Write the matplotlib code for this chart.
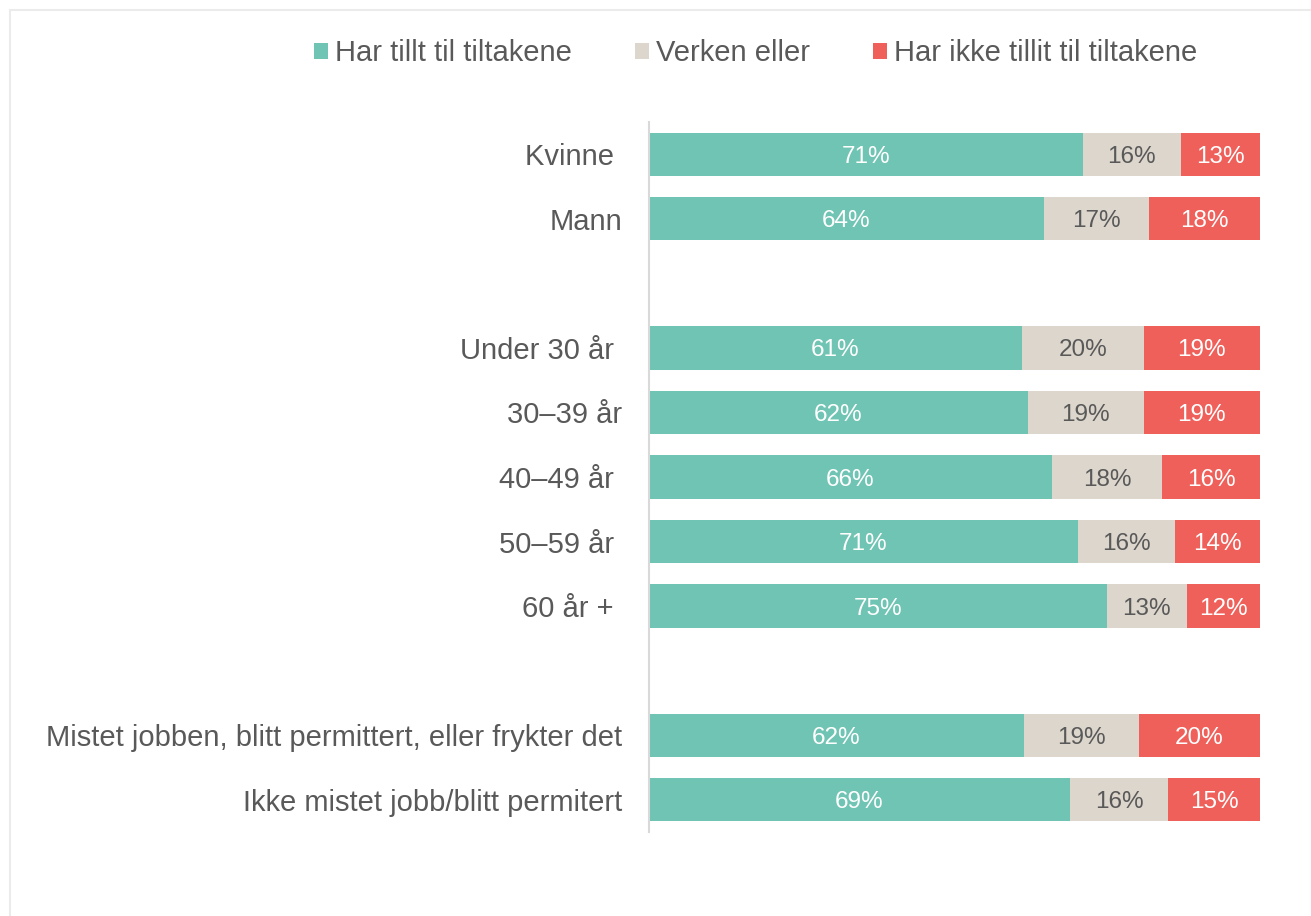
import matplotlib
matplotlib.use("Agg")
import matplotlib.pyplot as plt
import numpy as np
from matplotlib.patches import Rectangle, Patch

# ---- data ----
categories = ["Kvinne ", "Mann", "", "Under 30 år ", "30–39 år", "40–49 år ",
              "50–59 år ", "60 år + ", "",
              "Mistet jobben, blitt permittert, eller frykter det",
              "Ikke mistet jobb/blitt permitert"]
har_tillit = [71, 64, None, 61, 62, 66, 71, 75, None, 62, 69]
verken = [16, 17, None, 20, 19, 18, 16, 13, None, 19, 16]
ikke_tillit = [13, 18, None, 19, 19, 16, 14, 12, None, 20, 15]
series_names = ["Har tillt til tiltakene", "Verken eller", "Har ikke tillit til tiltakene"]

colors = ["#70C4B3", "#DDD6CC", "#F0605A"]
label_colors = ["white", "#595959", "white"]
text_color = "#595959"

plt.rcParams['font.family'] = ['Liberation Sans', 'DejaVu Sans']

W, H = 1311, 916
fig = plt.figure(figsize=(W / 100, H / 100), dpi=100)
fig.patch.set_facecolor("white")

# chart-area border
fig.patches.append(Rectangle((10 / W, -0.1), 1.2, 1 - 10 / H + 0.1,
                             transform=fig.transFigure, fill=False,
                             edgecolor="#EBEBEB", linewidth=1.5))

ax = fig.add_axes([648.5 / W, 1 - 832 / H, (1260 - 648.5) / W, (832 - 122) / H])

n = len(categories)
ypos = np.arange(n)
rows = [i for i in range(n) if har_tillit[i] is not None]
series = [har_tillit, verken, ikke_tillit]
totals = {i: sum(s[i] for s in series) for i in rows}

left = {i: 0.0 for i in rows}
for s, name, c, lc in zip(series, series_names, colors, label_colors):
    ys = [ypos[i] for i in rows]
    widths = [s[i] / totals[i] for i in rows]
    lefts = [left[i] for i in rows]
    bars = ax.barh(ys, widths, left=lefts, height=0.67, color=c, label=name,
                   edgecolor="none")
    labels = ax.bar_label(bars, labels=[f"{s[i]}%" for i in rows],
                          label_type="center", color=lc, fontsize=17.5)
    for t in labels:
        t.set_y(t.get_position()[1])
        t.set_va("center_baseline")
    for i in rows:
        left[i] += s[i] / totals[i]

ax.set_xlim(0, 1)
ax.set_ylim(n - 0.5, -0.5)
ax.set_yticks(ypos)
ax.set_yticklabels(categories, fontsize=21, color=text_color)
ax.tick_params(axis="y", length=0, pad=19)
ax.set_xticks([])
for sp in ["top", "right", "bottom"]:
    ax.spines[sp].set_visible(False)
ax.spines["left"].set_color("#D9D9D9")
ax.spines["left"].set_linewidth(1.5)

handles = [Patch(facecolor=c, edgecolor="none", label=nm) for c, nm in zip(colors, series_names)]
leg = fig.legend(handles=handles, loc="center left",
                 bbox_to_anchor=(314 / W, 1 - 53 / H), ncol=3, frameon=False,
                 fontsize=21, handlelength=0.48, handleheight=0.48,
                 handletextpad=0.25, columnspacing=2.15, borderpad=0,
                 borderaxespad=0)
for t in leg.get_texts():
    t.set_color(text_color)

fig.savefig("out.png", dpi=100, facecolor="white")
